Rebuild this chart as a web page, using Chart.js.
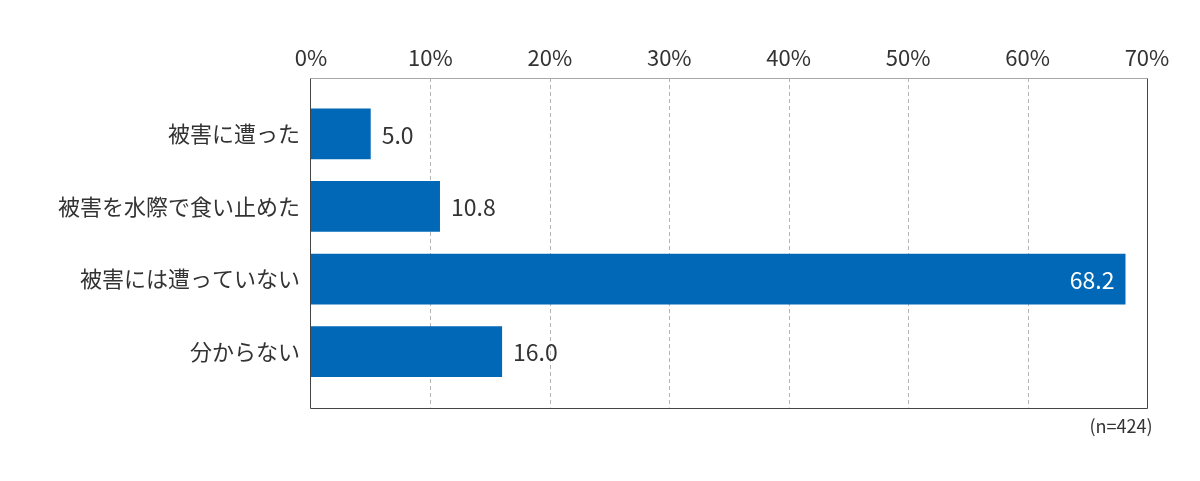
<!DOCTYPE html>
<html lang="ja">
<head>
<meta charset="utf-8">
<script src="https://cdn.jsdelivr.net/npm/chart.js@4.4.0/dist/chart.umd.min.js"></script>
<style>
  html, body { margin: 0; padding: 0; background: #fff; }
  #wrap { width: 1200px; height: 481px; }
</style>
</head>
<body>
<div id="wrap"><canvas id="graficoHigai"></canvas></div>
<script>
// データ
const categories = ['被害に遭った', '被害を水際で食い止めた', '被害には遭っていない', '分からない'];
const values = [5.0, 10.8, 68.2, 16.0];
const tickValues = [0, 10, 20, 30, 40, 50, 60, 70];
const sampleNote = '(n=424)';

const FONT = '"Noto Sans CJK JP", "Noto Sans", sans-serif';
const BAR_COLOR = '#0068b7';
const FRAME_PAD = 19.5; // 枠とバー領域の間の余白

// 枠・グリッド線・注記
const framePlugin = {
    id: 'frame',
    beforeDatasetsDraw(chart) {
        const { ctx, chartArea, scales } = chart;
        const top = chartArea.top - FRAME_PAD;
        const bottom = chartArea.bottom + FRAME_PAD;
        ctx.save();
        // 点線のグリッド
        ctx.strokeStyle = '#b4b4b4';
        ctx.lineWidth = 1;
        ctx.setLineDash([4, 3]);
        tickValues.forEach(v => {
            if (v === 0 || v === tickValues[tickValues.length - 1]) return;
            const x = Math.round(scales.x.getPixelForValue(v)) + 0.5;
            ctx.beginPath();
            ctx.moveTo(x, top);
            ctx.lineTo(x, bottom);
            ctx.stroke();
        });
        ctx.restore();
    },
    afterDatasetsDraw(chart) {
        const { ctx, chartArea } = chart;
        const top = Math.round(chartArea.top - FRAME_PAD) + 0.5;
        const bottom = Math.round(chartArea.bottom + FRAME_PAD) + 0.5;
        const left = Math.round(chartArea.left) - 0.5;
        const right = Math.round(chartArea.right) + 0.5;
        ctx.save();
        ctx.lineWidth = 1;
        ctx.strokeStyle = '#a8a8a8';
        ctx.beginPath();
        ctx.moveTo(left, top);
        ctx.lineTo(right, top);
        ctx.stroke();
        ctx.strokeStyle = '#444';
        ctx.beginPath();
        ctx.moveTo(left, top);
        ctx.lineTo(left, bottom);
        ctx.lineTo(right, bottom);
        ctx.lineTo(right, top);
        ctx.stroke();
        // 注記
        ctx.fillStyle = '#333';
        ctx.font = '18px ' + FONT;
        ctx.textAlign = 'right';
        ctx.textBaseline = 'middle';
        ctx.fillText(sampleNote, right + 5, bottom + 18);
        ctx.restore();
    }
};

// 値ラベル
const valueLabels = {
    id: 'valueLabels',
    afterDatasetsDraw(chart) {
        const { ctx } = chart;
        const meta = chart.getDatasetMeta(0);
        ctx.save();
        ctx.font = '23px ' + FONT;
        ctx.textBaseline = 'middle';
        meta.data.forEach((bar, i) => {
            const label = values[i].toFixed(1);
            if (values[i] > 60) {
                ctx.fillStyle = '#fff';
                ctx.textAlign = 'right';
                ctx.fillText(label, bar.x - 11, bar.y + 1);
            } else {
                ctx.fillStyle = '#333';
                ctx.textAlign = 'left';
                ctx.fillText(label, bar.x + 11, bar.y + 1);
            }
        });
        ctx.restore();
    }
};

const ctxHigai = document.getElementById('graficoHigai').getContext('2d');
new Chart(ctxHigai, {
    type: 'bar',
    data: {
        labels: categories,
        datasets: [{
            data: values,
            backgroundColor: BAR_COLOR,
            borderWidth: 0,
            barPercentage: 0.7,
            categoryPercentage: 1.0
        }]
    },
    options: {
        indexAxis: 'y',
        responsive: true,
        maintainAspectRatio: false,
        animation: false,
        layout: { padding: { left: 0, top: 0, right: 53, bottom: 93 } },
        scales: {
            x: {
                position: 'top',
                min: 0,
                max: 70,
                afterBuildTicks(scale) {
                    scale.ticks = tickValues.map(v => ({ value: v }));
                },
                afterFit(scale) { scale.height = 97.5; },
                grid: { display: false, drawTicks: false },
                border: { display: false },
                ticks: {
                    padding: 27,
                    color: '#333',
                    font: { family: FONT, size: 22 },
                    callback: v => v + '%'
                }
            },
            y: {
                afterFit(scale) { scale.width = 311; },
                grid: { display: false, drawTicks: false },
                border: { display: false },
                ticks: {
                    padding: 11,
                    color: '#333',
                    font: { family: FONT, size: 22 }
                }
            }
        },
        plugins: {
            legend: { display: false },
            tooltip: { enabled: false }
        }
    },
    plugins: [framePlugin, valueLabels]
});
</script>
</body>
</html>
